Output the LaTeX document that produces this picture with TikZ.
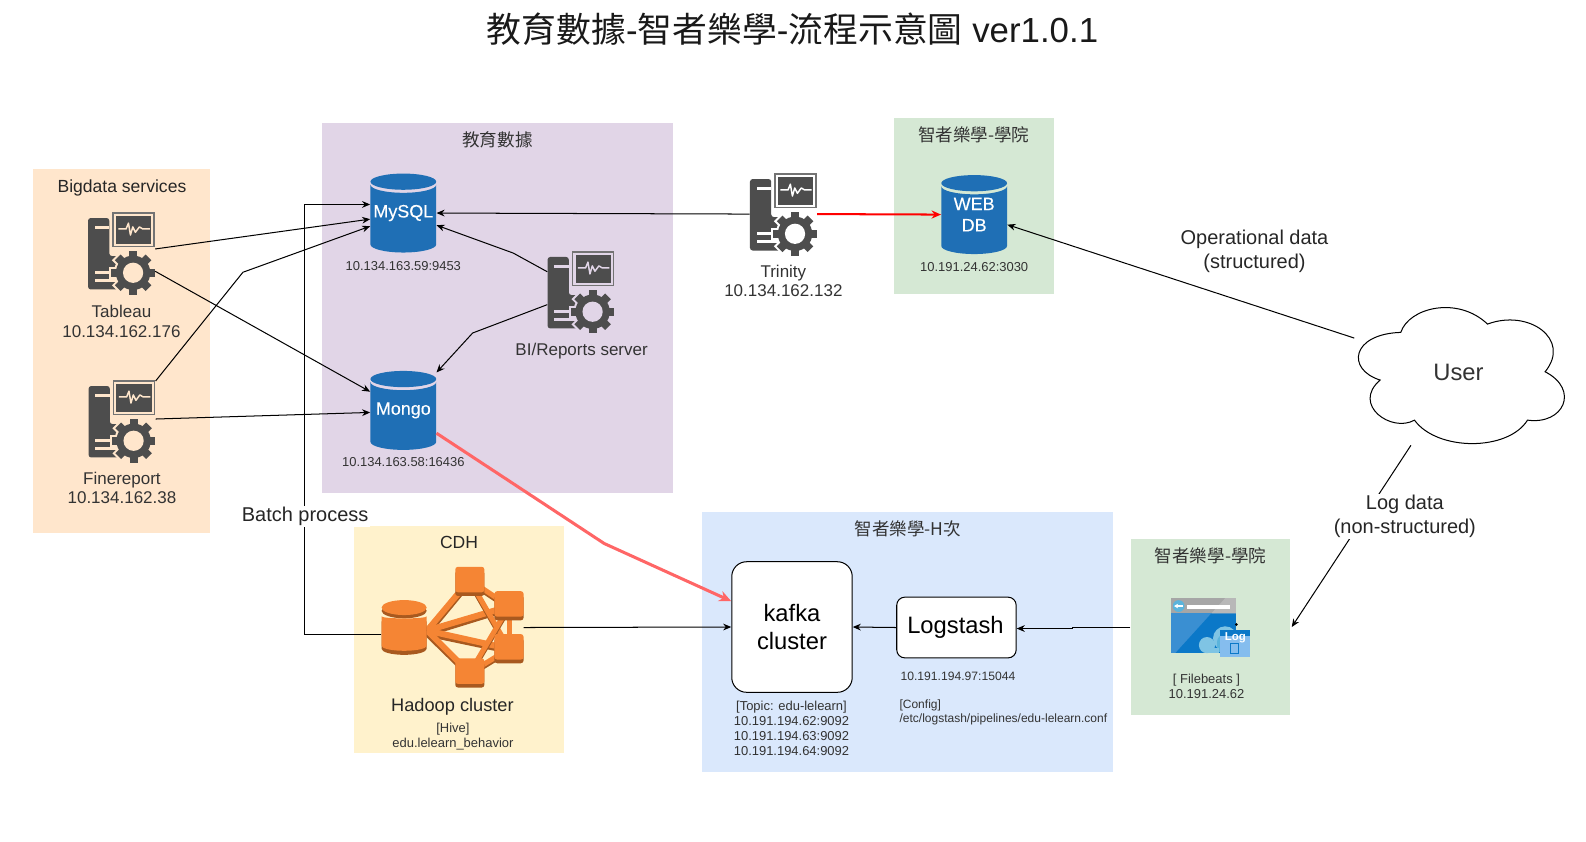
\documentclass[tikz,border=0pt]{standalone}
\usepackage{fontspec}
\setmainfont{Liberation Sans}
\newfontfamily\zh{Noto Sans CJK TC}
\newfontfamily\dbfont[FakeBold=0.25]{Liberation Sans}
\usetikzlibrary{positioning,calc,arrows.meta}
\definecolor{peachbg}{HTML}{FFE6CC}
\definecolor{purplebg}{HTML}{E1D5E7}
\definecolor{greenbg}{HTML}{D5E8D4}
\definecolor{yellowbg}{HTML}{FFF2CC}
\definecolor{bluebg}{HTML}{DAE8FC}
\definecolor{dbblue}{HTML}{1F6FB5}
\definecolor{icongrey}{HTML}{4D4D4D}
\definecolor{framegrey}{HTML}{737373}
\definecolor{hadooporange}{HTML}{F58534}
\definecolor{hadoopdark}{HTML}{A8591F}
\definecolor{inktext}{HTML}{333333}
\definecolor{salmon}{HTML}{FF6666}
\definecolor{winlight}{HTML}{3A8FD2}
\definecolor{windark}{HTML}{0B78C8}
\definecolor{skylight}{HTML}{7FC4E4}
\definecolor{skymid}{HTML}{5BB4DC}
\definecolor{logbody}{HTML}{85BDEE}
\tikzset{
	groupbox/.style={inner sep=0pt, fill=#1},
	grouptitle/.style={inner sep=0pt, text=inktext, font=\zh\fontsize{13}{15}\selectfont},
	bigtext/.style={inner sep=0pt, align=center, text=inktext, font=\fontsize{12.6}{14.4}\selectfont},
	smalltext/.style={inner sep=0pt, align=center, text=inktext, font=\fontsize{9.6}{11}\selectfont},
	edgetext/.style={inner sep=1pt, align=center, text=black!85, font=\fontsize{14.8}{17.6}\selectfont},
	iconbox/.style={inner sep=0pt, minimum width=49.5pt, minimum height=59pt},
	dbbox/.style={inner sep=0pt, minimum width=48.75pt, minimum height=58.5pt, align=center, text=white, font=\dbfont\fontsize{13.3}{15.75}\selectfont},
	roundbox/.style={draw=black, line width=0.75pt, fill=white, rounded corners=#1, inner sep=0pt, align=center, font=\fontsize{17.6}{20.25}\selectfont},
	link/.style={line width=0.75pt, -{Stealth[length=6pt,width=5pt]}},
	pics/servericon/.style={code={
		\fill[icongrey, rounded corners=2] (-33,34.6) -- (-12,34.6) -- (-12,-3) -- (4,-3) -- (4,-36) -- (-33,-36) -- cycle;
		\fill[#1] (-26.5,24) rectangle (-12,27);
		\fill[#1] (-26.5,-20.5) rectangle (-5,-17.5);
		\fill[#1] (-26.5,-28.5) rectangle (-5,-25.5);
		\fill[framegrey] (-9,40.5) rectangle (33,5.5);
		\fill[#1] (-7.4,38.9) rectangle (31.4,7.1);
		\fill[icongrey] (-5.4,36.9) rectangle (29.4,9.1);
		\draw[#1, line width=1.1pt, line join=round] (-3,23.8) -- (4.6,23.8) -- (6.9,29.5) -- (8.9,17.8) -- (11.2,25.8) -- (13.8,20.5) -- (17.7,25.8) -- (21,23.8) -- (28,23.8);
		\begin{scope}[shift={(11.5,-19.5)}]
			\foreach \a in {0,45,...,315} {
				\fill[#1, rotate=\a] (-6,13) rectangle (6,23.5);
			}
			\fill[#1] (0,0) circle[radius=19];
			\foreach \a in {0,45,...,315} {
				\fill[icongrey, rotate=\a] (-4,14) rectangle (4,21.5);
			}
			\fill[icongrey] (0,0) circle[radius=17];
			\fill[#1] (0,0) circle[radius=10];
		\end{scope}
	}},
	pics/dbicon/.style={code={
		\fill[dbblue] (-32.5,28) arc[start angle=180, end angle=360, x radius=32.5, y radius=8] -- (32.5,-31) arc[start angle=360, end angle=180, x radius=32.5, y radius=8] -- cycle;
		\fill[dbblue] (0,31) ellipse[x radius=32.5, y radius=8];
	}},
	pics/hadoopicon/.style={code={
		\foreach \b/\c in {17/47,56/21,56/-21,17/-45} {
			\draw[hadoopdark, line width=4.5pt] (-25,-6) -- (\b,\c-2);
			\draw[hadooporange, line width=4.5pt] (-25,-3) -- (\b,\c);
		}
		\foreach \a/\d/\b/\c in {17/47/56/21,17/47/56/-21,17/-45/56/21,17/-45/56/-21,56/21/56/-21} {
			\draw[hadoopdark, line width=3.75pt] (\a,\d-2) -- (\b,\c-2);
			\draw[hadooporange, line width=3.75pt] (\a,\d) -- (\b,\c);
		}
		\foreach \a/\d in {2.8/60,41.5/35.9,41.5/-6.5,2.8/-30.5} {
			\fill[hadoopdark, rounded corners=2] (\a,\d-4) rectangle (\a+28.8,\d-28.8);
			\fill[hadooporange, rounded corners=2] (\a,\d) rectangle (\a+28.8,\d-25.2);
		}
		\fill[hadoopdark] (-47.7,16.5) ellipse[x radius=22.3, y radius=7.4];
		\fill[hadooporange] (-47.7,19.7) ellipse[x radius=22.3, y radius=7.4];
		\fill[hadoopdark] (-70,6) -- (-70,-21) arc[start angle=180, end angle=360, x radius=22.3, y radius=6] -- (-25.4,6) -- cycle;
		\fill[hadooporange] (-70,11) -- (-70,-18) arc[start angle=180, end angle=360, x radius=22.3, y radius=5] -- (-25.4,11) arc[start angle=0, end angle=-180, x radius=22.3, y radius=2] -- cycle;
	}},
	pics/beatsicon/.style={code={
		\fill[winlight] (-39.5,14) rectangle (24.5,-25);
		\fill[windark] (0.4,14) -- (24.5,14) -- (24.5,-25) -- (-35,-25) -- cycle;
		\fill[black!35] (-39.5,29) rectangle (24.5,14);
		\fill[black!28] (14,29) -- (24.5,29) -- (24.5,14) -- (0.4,14) -- cycle;
		\fill[white] (-24,22.5) rectangle (18.5,18);
		\fill[skymid] (-32,21.2) circle[radius=5.8];
		\draw[white, line width=1pt, -{Stealth[length=3pt,width=3.5pt]}] (-27.5,21.2) -- (-36.5,21.2);
		\fill[skylight] (-4,-17.4) circle[radius=8];
		\fill[skylight] (14,-10.8) circle[radius=12];
		\fill[skymid] (6,-24) -- (6,-14) arc[start angle=180, end angle=0, radius=7] -- (20,-24) -- cycle;
		\fill[skylight] (-4,-25.4) rectangle (8,-20);
		\fill[black] (25,4.5) -- (26.5,3) -- (25,1.5) -- (23.5,3) -- cycle;
		\fill[logbody] (8.5,-2.5) rectangle (38.5,-29);
		\fill[windark] (8.5,-2.5) rectangle (38.5,-8);
		\draw[windark, line width=0.5pt] (19,-15.5) rectangle (27,-25.5);
		\node[inner sep=0pt, text=white, font=\bfseries\fontsize{8.5}{9}\selectfont] (logmark) at (24,-10) {Log};
	}},
}
\begin{document}
\begin{tikzpicture}[x=0.75pt, y=0.75pt]
	\useasboundingbox (0,0) rectangle (1567,-831);

	\node[inner sep=0pt, text=black!90, font=\fontsize{25.8}{30}\selectfont] (maintitle) at (783,-29) {{\zh 教育數據}-{\zh 智者樂學}-{\zh 流程示意圖} ver1.0.1};

	% group boxes
	\node[groupbox=peachbg, minimum width=130.5pt, minimum height=270pt] (bigbox) at (120,-347) {};
	\node[groupbox=purplebg, minimum width=260.25pt, minimum height=273.75pt] (edubox) at (491.5,-304.5) {};
	\node[groupbox=greenbg, minimum width=118.5pt, minimum height=129.75pt] (webbox) at (962,-203.5) {};
	\node[groupbox=yellowbg, minimum width=155.25pt, minimum height=168pt] (cdhbox) at (453.5,-632) {};
	\node[groupbox=bluebg, minimum width=304.5pt, minimum height=192.75pt] (hbox) at (897,-634.5) {};
	\node[groupbox=greenbg, minimum width=118.5pt, minimum height=129.75pt] (beatsbox) at (1196,-619.5) {};

	\node[inner sep=0pt, text=black!85, font=\fontsize{13}{15}\selectfont] (bigtitle) at (120.5,-186) {Bigdata services};
	\node[grouptitle] (edutitle) at (491.5,-138) {教育數據};
	\node[grouptitle] (webtitle) at (962,-133) {智者樂學-學院};
	\node[inner sep=0pt, text=black!85, font=\fontsize{13}{15}\selectfont] (cdhtitle) at (453.5,-536) {CDH};
	\node[grouptitle] (htitle) at (897,-522) {智者樂學-H次};
	\node[grouptitle] (beatstitle) at (1196,-549) {智者樂學-學院};

	% server icons
	\pic at (120,-250) {servericon=peachbg};
	\node[iconbox] (tableau) at (120,-250) {};
	\node[bigtext, below=9pt of tableau] (tableaunote) {Tableau\\10.134.162.176};

	\pic at (120.5,-416) {servericon=peachbg};
	\node[iconbox] (finereport) at (120.5,-416) {};
	\node[bigtext, below=8pt of finereport] (finenote) {Finereport\\10.134.162.38};

	\pic at (574,-288.5) {servericon=purplebg};
	\node[iconbox] (bireports) at (574,-288.5) {};
	\node[bigtext, below=8pt of bireports, xshift=0.5pt] (binote) {BI/Reports server};

	\pic at (774,-211.5) {servericon=white};
	\node[iconbox] (trinity) at (774,-211.5) {};
	\node[bigtext, below=8pt of trinity] (trinitynote) {Trinity\\10.134.162.132};

	% databases
	\pic at (398.5,-210.5) {dbicon};
	\node[dbbox] (mysql) at (398.5,-210.5) {\raisebox{-2pt}{MySQL}};
	\node[smalltext, below=6pt of mysql] (mysqlnote) {10.134.163.59:9453};

	\pic at (398.5,-405.5) {dbicon};
	\node[dbbox] (mongo) at (398.5,-405.5) {\raisebox{-2pt}{Mongo}};
	\node[smalltext, below=5.5pt of mongo] (mongonote) {10.134.163.58:16436};

	\pic at (962.5,-212) {dbicon};
	\node[dbbox] (webdb) at (962.5,-212) {\raisebox{-0.7pt}{WEB}\\\raisebox{-0.7pt}{DB}};
	\node[smalltext, below=6pt of webdb] (webdbnote) {10.191.24.62:3030};

	% hadoop, kafka, logstash
	\pic at (447,-620) {hadoopicon};
	\node[inner sep=0pt, minimum width=105pt, minimum height=90pt] (hadoop) at (447,-620) {};
	\node[inner sep=0pt, text=black!85, font=\fontsize{13.5}{16}\selectfont] (hadooplabel) at (447,-698) {Hadoop cluster};
	\node[smalltext] (hivenote) at (447.5,-728) {[Hive]\\edu.lelearn\_behavior};

	\node[roundbox=11pt, minimum width=89.25pt, minimum height=96.75pt] (kafka) at (782.5,-619.5) {kafka\\cluster};
	\node[smalltext] (kafkanote) at (782,-719.5) {[Topic: edu-lelearn]\\10.191.194.62:9092\\10.191.194.63:9092\\10.191.194.64:9092};
	\node[roundbox=6pt, minimum width=88.5pt, minimum height=45pt] (logstash) at (945,-620) {\raisebox{-1.5pt}{\hspace{-1.5pt}Logstash}};
	\node[smalltext, font=\fontsize{9}{10.5}\selectfont, anchor=west] (logstaship) at (889.5,-668) {10.191.194.97:15044};
	\node[smalltext, font=\fontsize{8.9}{10.5}\selectfont, align=left, anchor=west] (logstashconf) at (888.5,-703.5) {[Config]\\/etc/logstash/pipelines/edu-lelearn.conf};

	\pic at (1196.5,-620) {beatsicon};
	\node[inner sep=0pt, minimum width=48pt, minimum height=40pt] (filebeats) at (1196.5,-620) {};
	\node[smalltext] (beatsnote) at (1192,-678.5) {[ Filebeats ]\\10.191.24.62};

	% user cloud
	\draw[line width=0.75pt, fill=white] (1384,-328.4)
		.. controls (1392,-304) and (1440,-292) .. (1469.7,-320.2)
		.. controls (1510,-305) and (1553,-335) .. (1526.6,-367.3)
		.. controls (1561,-385) and (1545,-420) .. (1509.2,-415.1)
		.. controls (1490,-446) and (1420,-446) .. (1397.5,-415.1)
		.. controls (1375,-428) and (1335,-400) .. (1363.6,-375.5)
		.. controls (1330,-365) and (1335,-330) .. (1384,-328.4);
	\node[inner sep=0pt, text=inktext, font=\fontsize{17.6}{20}\selectfont] (user) at (1441,-368) {User};
	\coordinate (useropdata) at (1338,-334);
	\coordinate (userlogdata) at (1394,-440);

	% connectors
	\draw[link] ($(tableau.east)+(0,4)$) -- ($(mysql.west)+(0,-6)$);
	\draw[link] ($(tableau.east)+(0,-18)$) -- ($(mongo.west)+(0,18.5)$);
	\draw[link] (finereport.north east) -- (240,-269) -- ($(mysql.west)+(0,-13)$);
	\draw[link] ($(finereport.east)+(0,2)$) -- ($(mongo.west)+(0,-2)$);
	\draw[link] (trinity.west) -- (mysql.east);
	\draw[link] ($(bireports.west)+(0,20)$) -- (507,-250) -- ($(mysql.east)+(0,-12)$);
	\draw[link] ($(bireports.west)+(0,-12.5)$) -- (467,-329) -- ($(mongo.east)+(0,37.5)$);
	\draw[link] ($(hadoop.west)+(0,-7)$) -- (301,-627) -- (301,-202) -- ($(mysql.west)+(0,8.5)$);
	\draw[link] (hadoop.east) -- (kafka.west);
	\draw[link] (logstash.west) -- (kafka.east);
	\draw[link] (beatsbox.west) -- (1060,-619.5) -- (1060,-621) -- ($(logstash.east)+(0,-1)$);
	\draw[link] (useropdata) -- ($(webdb.east)+(0,-10)$);
	\draw[link] (userlogdata) -- ($(beatsbox.east)+(1,0)$);
	\draw[line width=1.5pt, red, -{Stealth[length=7pt,width=6pt]}] (trinity.east) -- (webdb.west);
	\draw[line width=2.25pt, salmon, -{Stealth[length=9pt,width=8pt]}] ($(mongo.east)+(0,-22.5)$) -- (597,-537) -- ($(kafka.west)+(0,25.5)$);

	% edge labels
	\node[edgetext, fill=white] (batchlabel) at (301.5,-510.5) {Batch process};
	\node[edgetext] (oplabel) at (1239.5,-248) {Operational data\\(structured)};
	\node[edgetext, fill=white] (loglabel) at (1388,-510) {Log data\\(non-structured)};
\end{tikzpicture}
\end{document}
